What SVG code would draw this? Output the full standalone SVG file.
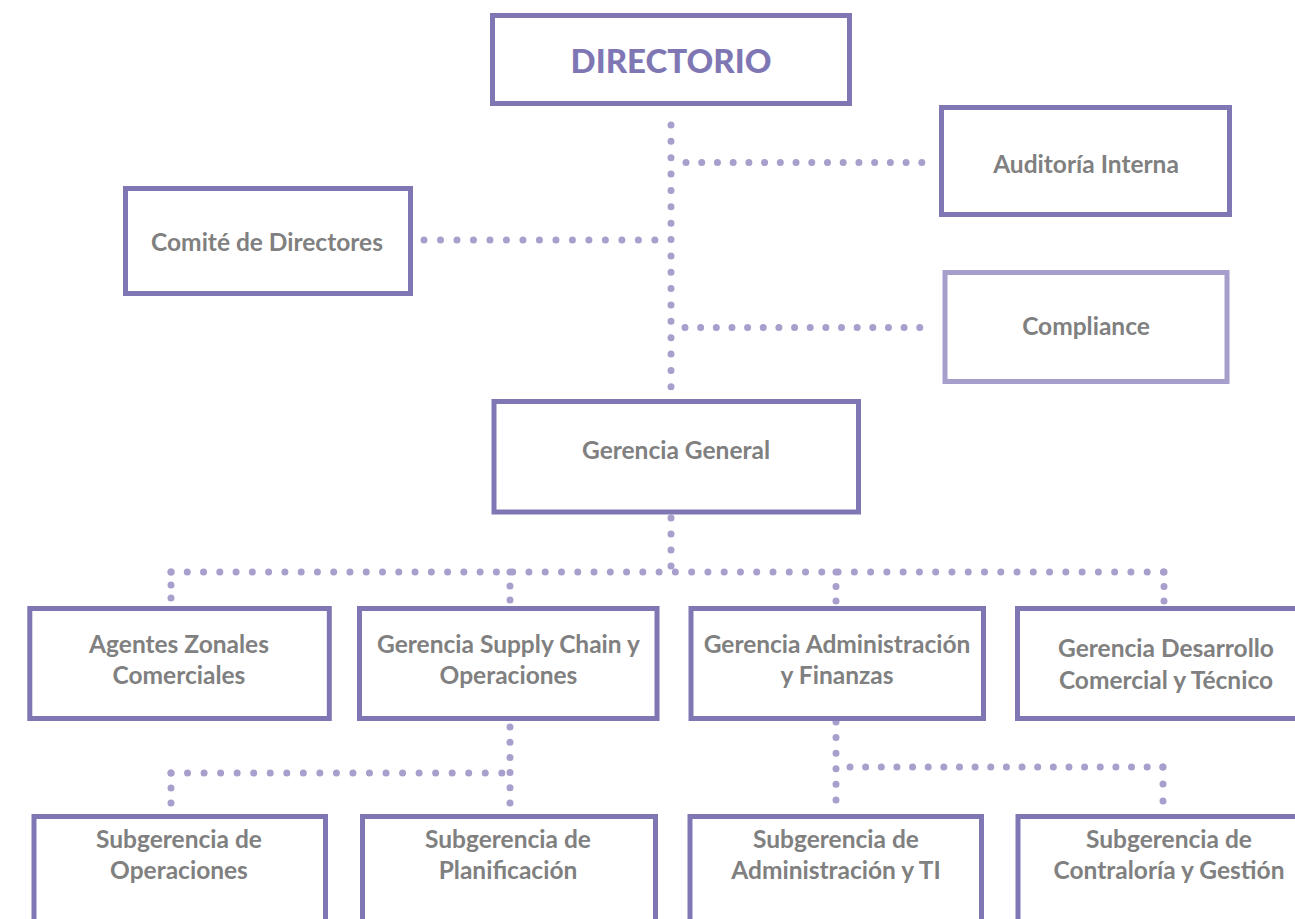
<svg xmlns="http://www.w3.org/2000/svg" width="1295" height="919" viewBox="0 0 1295 919">
<style>
.box{fill:#ffffff;stroke:#7F77B4;stroke-width:5}
.light{stroke:#A69ECB}
.lbl{font-family:Lato,"Liberation Sans",sans-serif;font-weight:700;font-size:24.5px;fill:#808080;text-anchor:middle}
.title{font-family:Lato,"Liberation Sans",sans-serif;font-weight:900;font-size:33px;fill:#7F77B4;text-anchor:middle}
.dot{fill:none;stroke:#A89FCD;stroke-width:7;stroke-linecap:round}
</style>
<rect width="1295" height="919" fill="#ffffff"/>
<g id="connectors">
<path class="dot" d="M671,125 V387" stroke-dasharray="0 16.36"/>
<path class="dot" d="M686,162.5 H922" stroke-dasharray="0 15.72"/>
<path class="dot" d="M424,240 H655" stroke-dasharray="0 16.49"/>
<path class="dot" d="M685,327.5 H920" stroke-dasharray="0 15.65"/>
<path class="dot" d="M671,518 V566" stroke-dasharray="0 15.99"/>
<path class="dot" d="M171,572 H1164" stroke-dasharray="0 16.27"/>
<path class="dot" d="M171,572 V598" stroke-dasharray="0 12.99"/>
<path class="dot" d="M510,572 V600" stroke-dasharray="0 13.99"/>
<path class="dot" d="M836,572 V601" stroke-dasharray="0 14.49"/>
<path class="dot" d="M1164,572 V601" stroke-dasharray="0 14.49"/>
<path class="dot" d="M510,727 V803" stroke-dasharray="0 15.19"/>
<path class="dot" d="M171,773 H502" stroke-dasharray="0 16.54"/>
<path class="dot" d="M171,773 V803" stroke-dasharray="0 14.99"/>
<path class="dot" d="M836,722 V800" stroke-dasharray="0 15.59"/>
<path class="dot" d="M850,767 H1163" stroke-dasharray="0 15.64"/>
<path class="dot" d="M1163,767 V801" stroke-dasharray="0 16.99"/>
</g>
<g id="directorio">
<rect class="box" x="492.5" y="15.5" width="357" height="88"/>
<text class="title" x="671" y="73">DIRECTORIO</text>
</g>
<g id="auditoria">
<rect class="box" x="941.5" y="107.5" width="288" height="107"/>
<text class="lbl" x="1086" y="173">Auditoría Interna</text>
</g>
<g id="comite">
<rect class="box" x="125.5" y="188.5" width="285" height="105"/>
<text class="lbl" x="267" y="251">Comité de Directores</text>
</g>
<g id="compliance">
<rect class="box light" x="945" y="272.5" width="282" height="109"/>
<text class="lbl" x="1086" y="335">Compliance</text>
</g>
<g id="gerencia-general">
<rect class="box" x="494" y="401.5" width="364.5" height="110.5"/>
<text class="lbl" x="676" y="459">Gerencia General</text>
</g>
<g id="agentes">
<rect class="box" x="29.8" y="608.5" width="299.5" height="110"/>
<text class="lbl" x="179" y="653">Agentes Zonales</text>
<text class="lbl" x="179" y="684">Comerciales</text>
</g>
<g id="supply-chain">
<rect class="box" x="359.5" y="608.5" width="297.5" height="110"/>
<text class="lbl" x="508.5" y="653">Gerencia Supply Chain y</text>
<text class="lbl" x="508.5" y="684">Operaciones</text>
</g>
<g id="adm-finanzas">
<rect class="box" x="691" y="608.5" width="292.5" height="110"/>
<text class="lbl" x="837" y="653">Gerencia Administración</text>
<text class="lbl" x="837" y="684">y Finanzas</text>
</g>
<g id="desarrollo">
<rect class="box" x="1017.5" y="608.5" width="290" height="110"/>
<text class="lbl" x="1166" y="657">Gerencia Desarrollo</text>
<text class="lbl" x="1166" y="689">Comercial y Técnico</text>
</g>
<g id="sub-operaciones">
<rect class="box" x="34" y="816.5" width="291.5" height="130"/>
<text class="lbl" x="179" y="848">Subgerencia de</text>
<text class="lbl" x="179" y="879">Operaciones</text>
</g>
<g id="sub-planificacion">
<rect class="box" x="362.5" y="816.5" width="293" height="130"/>
<text class="lbl" x="508" y="848">Subgerencia de</text>
<text class="lbl" x="508" y="879">Planificación</text>
</g>
<g id="sub-admin-ti">
<rect class="box" x="690" y="816.5" width="291.5" height="130"/>
<text class="lbl" x="836" y="848">Subgerencia de</text>
<text class="lbl" x="836" y="879">Administración y TI</text>
</g>
<g id="sub-contraloria">
<rect class="box" x="1018" y="816.5" width="290" height="130"/>
<text class="lbl" x="1169" y="848">Subgerencia de</text>
<text class="lbl" x="1169" y="879">Contraloría y Gestión</text>
</g>
</svg>
